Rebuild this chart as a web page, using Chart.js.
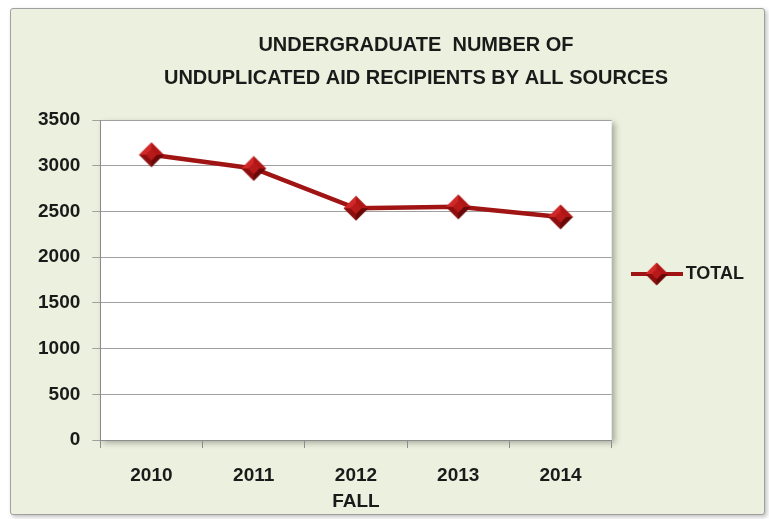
<!DOCTYPE html>
<html>
<head>
<meta charset="utf-8">
<script src="https://cdn.jsdelivr.net/npm/chart.js@4.4.1/dist/chart.umd.min.js"></script>
<style>
  html, body { margin: 0; padding: 0; background: #ffffff; }
  #frame {
    position: absolute; left: 10px; top: 8px; width: 753px; height: 505px;
    background: #ebf1de; border: 1px solid #a0a0a0; border-radius: 3px;
    box-shadow: 2px 2px 4px rgba(0,0,0,0.25);
  }
  #chart { display: block; }
</style>
</head>
<body>
<div id="frame"><canvas id="chart" width="753" height="505"></canvas></div>
<script>
// 数据
const years = ['2010', '2011', '2012', '2013', '2014'];
const totalValues = [3120, 2970, 2535, 2550, 2440];
const seriesName = 'TOTAL';
const titleLines = ['UNDERGRADUATE  NUMBER OF', 'UNDUPLICATED AID RECIPIENTS BY ALL SOURCES'];

const FONT = "'Liberation Sans Narrow', 'Arial Narrow', Arial, sans-serif";
const lineColor = '#a01414';

// 带立体感的菱形
function drawDiamond(g, cx, cy, r) {
    const facets = [
        ['#d02828', [cx, cy - r], [cx - r, cy]],
        ['#b01616', [cx, cy - r], [cx + r, cy]],
        ['#8c0e0e', [cx - r, cy], [cx, cy + r]],
        ['#6a0808', [cx + r, cy], [cx, cy + r]]
    ];
    facets.forEach(function(f) {
        g.fillStyle = f[0];
        g.beginPath();
        g.moveTo(cx, cy);
        g.lineTo(f[1][0], f[1][1]);
        g.lineTo(f[2][0], f[2][1]);
        g.closePath();
        g.fill();
    });
    g.fillStyle = '#b81a1a';
    g.beginPath();
    g.moveTo(cx, cy - r * 0.45); g.lineTo(cx + r * 0.45, cy);
    g.lineTo(cx, cy + r * 0.45); g.lineTo(cx - r * 0.45, cy);
    g.closePath();
    g.fill();
}

function makeMarker() {
    const c = document.createElement('canvas');
    c.width = 26; c.height = 26;
    drawDiamond(c.getContext('2d'), 13, 13, 12.5);
    return c;
}

// 图例图标：线 + 菱形
function makeLegendIcon() {
    const c = document.createElement('canvas');
    c.width = 52; c.height = 24;
    const g = c.getContext('2d');
    g.strokeStyle = lineColor;
    g.lineWidth = 4;
    g.beginPath(); g.moveTo(0, 12); g.lineTo(52, 12); g.stroke();
    drawDiamond(g, 26, 12, 11.5);
    return c;
}

// 白色绘图区 + 阴影
const plotBackground = {
    id: 'plotBackground',
    beforeDraw(chart) {
        const a = chart.chartArea;
        const ctx = chart.ctx;
        ctx.save();
        ctx.shadowColor = 'rgba(0,0,0,0.30)';
        ctx.shadowOffsetX = 3;
        ctx.shadowOffsetY = 3;
        ctx.shadowBlur = 6;
        ctx.fillStyle = '#ffffff';
        ctx.fillRect(a.left, a.top, a.right - a.left, a.bottom - a.top);
        ctx.restore();
    }
};

// 微调标题和图例位置
const nudgeBoxes = {
    id: 'nudgeBoxes',
    afterLayout(chart) {
        if (chart.titleBlock) {
            chart.titleBlock.left += 26;
            chart.titleBlock.right += 26;
        }
        if (chart.legend) {
            chart.legend.top += 13;
            chart.legend.bottom += 13;
        }
    }
};

new Chart(document.getElementById('chart').getContext('2d'), {
    type: 'line',
    data: {
        labels: years,
        datasets: [{
            label: seriesName,
            data: totalValues,
            borderColor: lineColor,
            borderWidth: 4.5,
            pointStyle: makeMarker(),
            pointRadius: 12,
            pointHoverRadius: 12,
            pointBackgroundColor: '#b01818',
            tension: 0
        }]
    },
    options: {
        responsive: false,
        animation: false,
        layout: { padding: { left: 15, right: 10, top: 0, bottom: 1 } },
        plugins: {
            title: {
                display: true,
                text: titleLines,
                color: '#1a1a1a',
                font: { family: FONT, size: 20, weight: 'bold', lineHeight: 1.65 },
                padding: { top: 20, bottom: 25 }
            },
            legend: {
                position: 'right',
                labels: {
                    usePointStyle: true,
                    pointStyle: makeLegendIcon(),
                    pointStyleWidth: 40,
                    color: '#1a1a1a',
                    font: { family: FONT, size: 18, weight: 'bold' },
                    padding: 25
                }
            },
            tooltip: { enabled: false }
        },
        scales: {
            x: {
                offset: true,
                grid: {
                    offset: true,
                    drawOnChartArea: false,
                    drawTicks: true,
                    tickLength: 8,
                    color: '#8c8c8c'
                },
                border: { color: '#8c8c8c', width: 1 },
                ticks: {
                    color: '#1a1a1a',
                    font: { family: FONT, size: 19, weight: 'bold' },
                    padding: 16
                },
                title: {
                    display: true,
                    text: 'FALL',
                    color: '#1a1a1a',
                    font: { family: FONT, size: 19, weight: 'bold' },
                    padding: { top: 0, bottom: 0 }
                },
                afterFit: function(scale) { scale.height = 73; }
            },
            y: {
                min: 0,
                max: 3500,
                grid: {
                    color: '#a0a0a0',
                    tickLength: 8
                },
                border: { color: '#8c8c8c', width: 1 },
                ticks: {
                    stepSize: 500,
                    color: '#1a1a1a',
                    font: { family: FONT, size: 19, weight: 'bold' },
                    padding: 12,
                    callback: function(value) { return String(value); }
                }
            }
        }
    },
    plugins: [plotBackground, nudgeBoxes]
});
</script>
</body>
</html>
